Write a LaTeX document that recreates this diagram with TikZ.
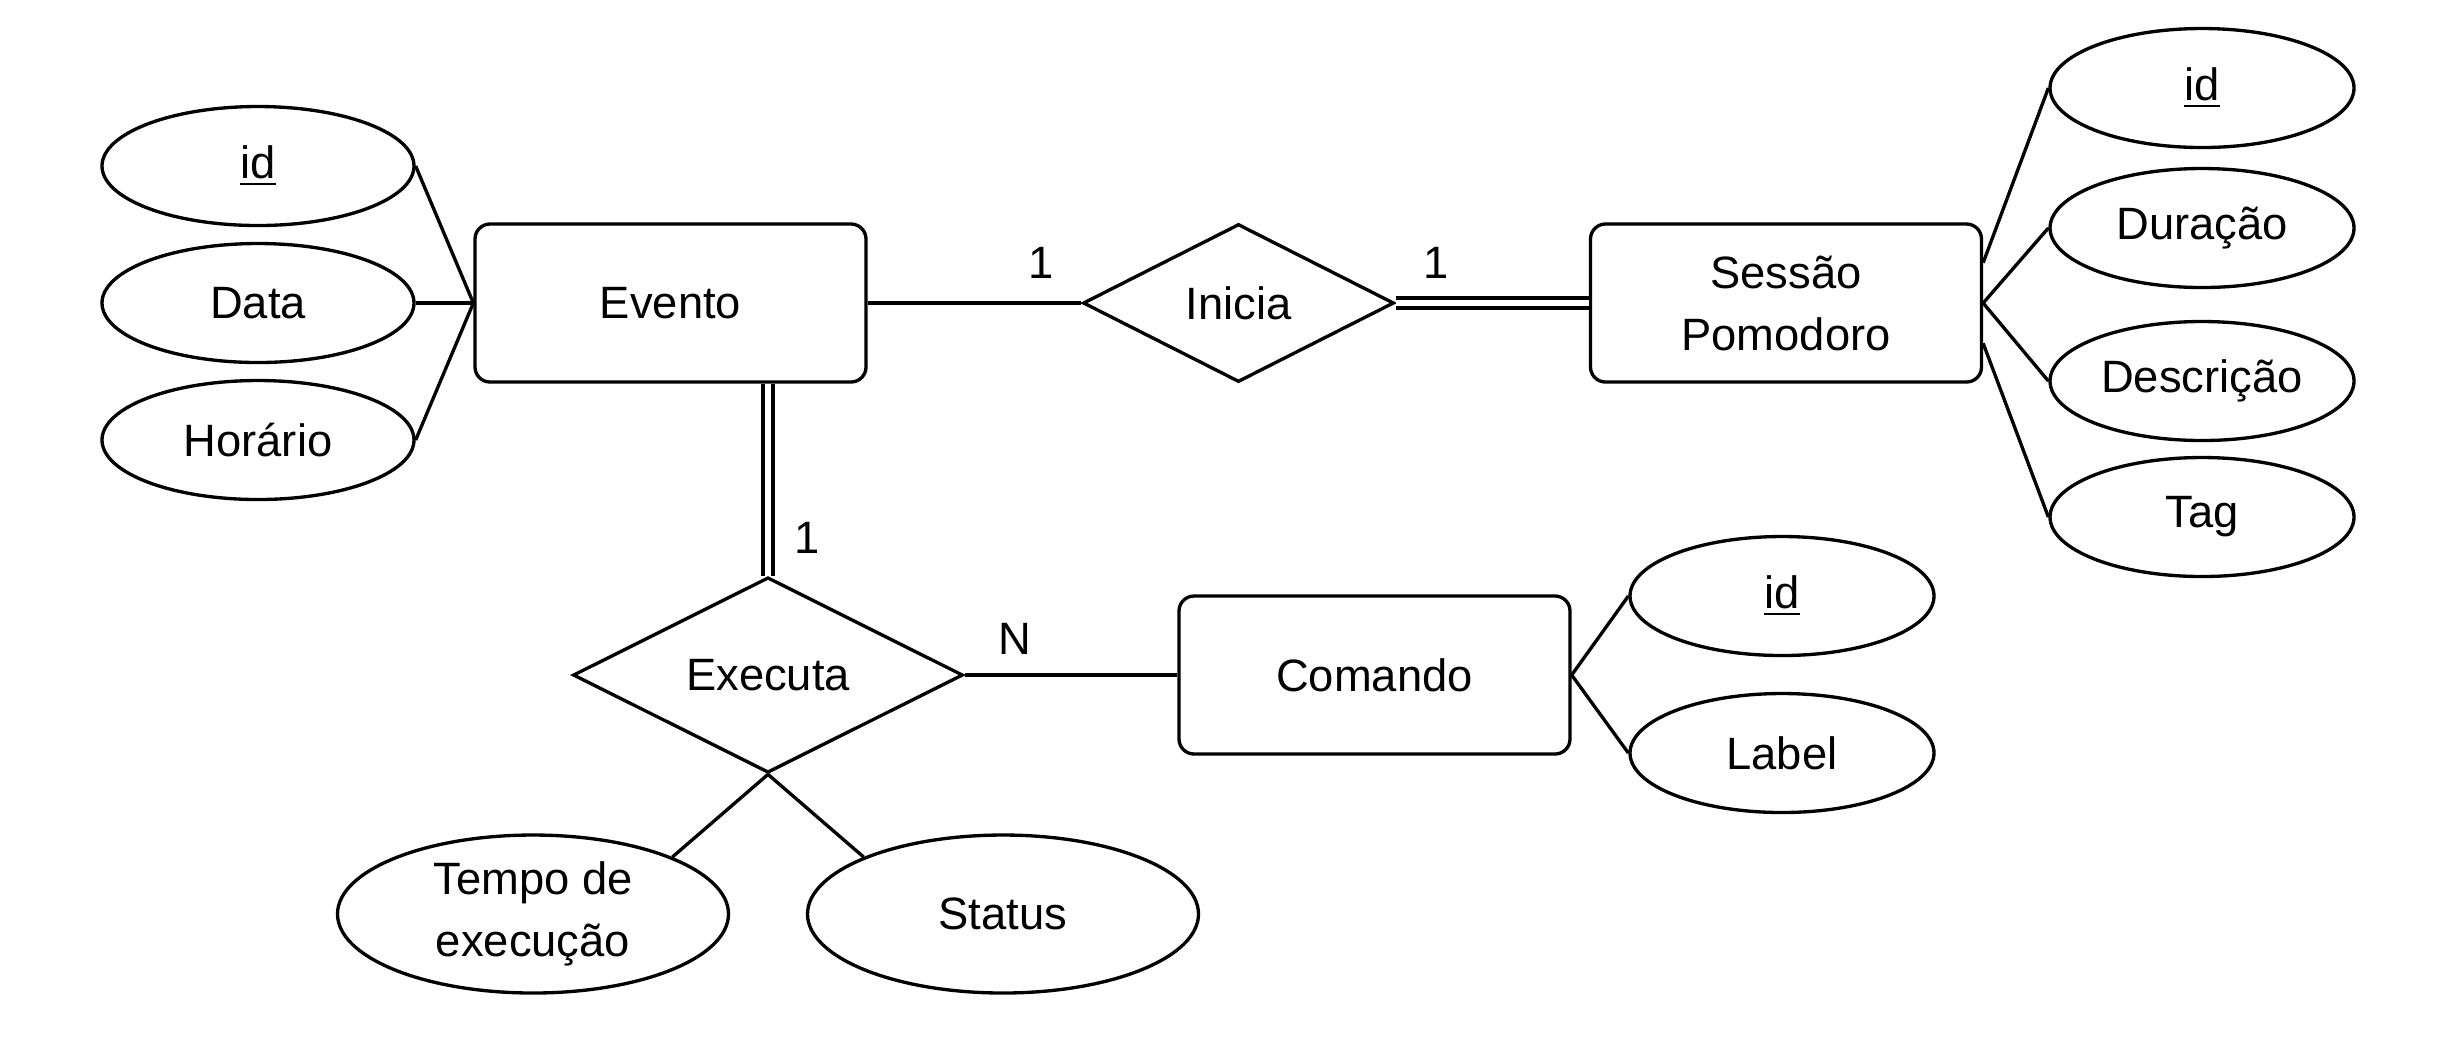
\documentclass[tikz,border=0pt]{standalone}
\usepackage{fontspec}
\setmainfont{Liberation Sans}
\usetikzlibrary{shapes.geometric,calc}
\begin{document}
\begin{tikzpicture}[x=0.3pt,y=-0.3pt,
  every node/.style={font=\fontsize{13.6}{18.6}\selectfont, inner sep=0pt},
  ent/.style={draw, line width=1pt, rectangle, rounded corners=4.5pt, minimum width=117.3pt, minimum height=47.4pt, align=center},
  attr/.style={draw, line width=1pt, ellipse, minimum width=91.2pt, minimum height=35.7pt, align=center},
  wattr/.style={attr, minimum width=93.6pt},
  battr/.style={attr, minimum width=117.3pt, minimum height=47.4pt},
  rel/.style={draw, line width=1pt, diamond},
  conn/.style={line width=1pt},
  dconn/.style={line width=1pt, double, double distance=2pt},
  card/.style={anchor=base}
]
\useasboundingbox (0,0) rectangle (2452,1042);

% entities
\node[ent] (ev) at (670.5,303) {Evento};
\node[ent] (sp) at (1786,303) {Sessão\\Pomodoro};
\node[ent] (cm) at (1374.5,675) {Comando};

% relationships
\node[rel, minimum width=93.3pt, minimum height=47.4pt] (ini) at (1238.5,303) {Inicia};
\node[rel, minimum width=117pt, minimum height=58.5pt] (ex) at (768,675) {Executa};

% attributes of Evento
\node[wattr] (lid) at (258,166) {\underline{id}};
\node[wattr] (ldata) at (258,303) {Data};
\node[wattr] (lhor) at (258,440) {Horário};

% attributes of Sessao Pomodoro
\node[attr] (rid) at (2202,88) {\underline{id}};
\node[attr] (rdur) at (2202,228) {Duração};
\node[attr] (rdesc) at (2202,381) {Descrição};
\node[attr] (rtag) at (2202,517) {Tag};

% attributes of Comando
\node[attr] (cid) at (1782,596) {\underline{id}};
\node[attr] (clab) at (1782,753) {Label};

% attributes of Executa
\node[battr] (tempo) at (533,914) {Tempo de\\execução};
\node[battr] (status) at (1003,914) {Status};

% connectors
\draw[conn] (lid.east) -- (ev.west);
\draw[conn] (ldata.east) -- (ev.west);
\draw[conn] (lhor.east) -- (ev.west);

\draw[conn] (ev.east) -- (ini.west);
\draw[dconn] (ini.east) -- (sp.west);

\coordinate (spa) at ($(sp.north east)!0.25!(sp.south east)$);
\coordinate (spb) at ($(sp.north east)!0.75!(sp.south east)$);
\draw[conn] (spa) -- (rid.west);
\draw[conn] (sp.east) -- (rdur.west);
\draw[conn] (sp.east) -- (rdesc.west);
\draw[conn] (spb) -- (rtag.west);

\coordinate (evb) at (ex.north |- ev.south);
\draw[dconn] (evb) -- (ex.north);
\draw[conn] (ex.east) -- (cm.west);

\draw[conn] (cm.east) -- (cid.west);
\draw[conn] (cm.east) -- (clab.west);

\draw[conn] (ex.south) -- (tempo.north east);
\draw[conn] (ex.south) -- (status.north west);

% cardinalities
\node[card] (c1) at (1041,278) {1};
\node[card] (c2) at (1436,278) {1};
\node[card] (c3) at (807,553) {1};
\node[card] (c4) at (1015,654) {N};
\end{tikzpicture}
\end{document}
